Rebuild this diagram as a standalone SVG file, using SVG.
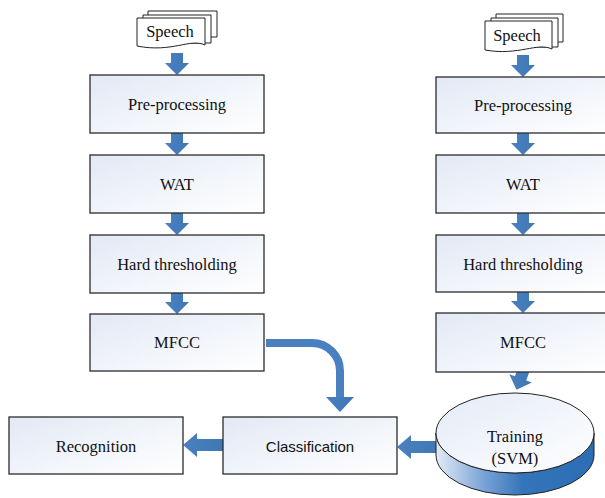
<svg xmlns="http://www.w3.org/2000/svg" width="605" height="498" viewBox="0 0 605 498">
<defs>
<linearGradient id="boxg" x1="0" y1="0" x2="1" y2="1">
<stop offset="0" stop-color="#e2e9f5"/>
<stop offset="1" stop-color="#ffffff"/>
</linearGradient>
<linearGradient id="arrg" x1="0" y1="0" x2="1" y2="0">
<stop offset="0" stop-color="#4a80bf"/>
<stop offset="1" stop-color="#3f77b5"/>
</linearGradient>
<linearGradient id="topg" x1="0" y1="0" x2="1" y2="1">
<stop offset="0" stop-color="#e4ebf6"/>
<stop offset="1" stop-color="#ffffff"/>
</linearGradient>
<linearGradient id="sideg" x1="0" y1="0" x2="1" y2="0">
<stop offset="0" stop-color="#e3ebf6"/>
<stop offset="0.3" stop-color="#7aa3d6"/>
<stop offset="0.55" stop-color="#3474ba"/>
<stop offset="1" stop-color="#2d6db3"/>
</linearGradient>
<polygon id="down" points="-6,0 6,0 6,10 12,10 0,22 -12,10 -6,10"/>
</defs>
<style>
.box{fill:url(#boxg);stroke:#2b2b2b;stroke-width:1.3}
.doc{fill:#ffffff;stroke:#222;stroke-width:1}
.arr{fill:url(#arrg)}
.t{font-family:"Liberation Serif","Times New Roman",serif;font-size:16.5px;fill:#111;text-anchor:middle}
.s{font-family:"Liberation Sans",Arial,sans-serif;font-size:15px;fill:#111;text-anchor:middle}
</style>

<g id="connectors">
<use href="#down" class="arr" transform="translate(177,53)"/>
<use href="#down" class="arr" transform="translate(177,133)"/>
<use href="#down" class="arr" transform="translate(177,213)"/>
<use href="#down" class="arr" transform="translate(177,292)"/>
<use href="#down" class="arr" transform="translate(523,55)"/>
<use href="#down" class="arr" transform="translate(523,133)"/>
<use href="#down" class="arr" transform="translate(523,213)"/>
<use href="#down" class="arr" transform="translate(523,291)"/>
<use href="#down" class="arr" transform="translate(524,369) rotate(20)"/>
<path d="M266,343 H312 A28,28 0 0 1 340,371 V398" fill="none" stroke="#4a80bf" stroke-width="8"/>
<polygon class="arr" points="326,397 354,397 340,412"/>
<polygon class="arr" points="183,445 197,433 197,439 223,439 223,451 197,451 197,457"/>
<polygon class="arr" points="397,447 411,435 411,441 440,441 440,453 411,453 411,459"/>
</g>

<g id="speech-left">
<path class="doc" d="M148,11 H217 V37 H148 Z"/>
<path class="doc" d="M143,15 H211 V43 H143 Z"/>
<path class="doc" d="M137,18 H205 V45 C190,38 172,53 137,46 Z"/>
<text class="t" x="170" y="37">Speech</text>
</g>

<g id="speech-right">
<path class="doc" d="M496,14 H563 V42 H496 Z"/>
<path class="doc" d="M491,18 H558 V47 H491 Z"/>
<path class="doc" d="M485,21 H552 V49 C537,42 519,56 485,50 Z"/>
<text class="t" x="517" y="41">Speech</text>
</g>

<g id="pre-left"><rect class="box" x="90" y="75" width="174" height="58"/><text class="t" x="177" y="110">Pre-processing</text></g>
<g id="wat-left"><rect class="box" x="90" y="155" width="174" height="58"/><text class="t" x="177" y="190">WAT</text></g>
<g id="hard-left"><rect class="box" x="90" y="235" width="174" height="58"/><text class="t" x="177" y="270">Hard thresholding</text></g>
<g id="mfcc-left"><rect class="box" x="90" y="314" width="174" height="57"/><text class="t" x="177" y="348">MFCC</text></g>

<g id="pre-right"><rect class="box" x="436" y="77" width="175" height="56"/><text class="t" x="523" y="111">Pre-processing</text></g>
<g id="wat-right"><rect class="box" x="436" y="155" width="175" height="58"/><text class="t" x="523" y="190">WAT</text></g>
<g id="hard-right"><rect class="box" x="436" y="235" width="175" height="57"/><text class="t" x="523" y="270">Hard thresholding</text></g>
<g id="mfcc-right"><rect class="box" x="436" y="313" width="175" height="59"/><text class="t" x="523" y="348">MFCC</text></g>

<g id="recognition"><rect class="box" x="9" y="417" width="174" height="57"/><text class="t" x="96" y="452">Recognition</text></g>
<g id="classification"><rect class="box" x="223" y="417" width="174" height="57"/><text class="s" x="310" y="452">Classification</text></g>

<g id="training">
<path d="M436,433 V455 A79,40 0 0 0 594,455 V433 A79,40 0 0 1 436,433 Z" fill="url(#sideg)" stroke="#222" stroke-width="1"/>
<ellipse cx="515" cy="433" rx="79" ry="40" fill="url(#topg)" stroke="#222" stroke-width="1"/>
<text class="t" x="515" y="442">Training</text>
<text class="t" x="515" y="464">(SVM)</text>
</g>
</svg>
